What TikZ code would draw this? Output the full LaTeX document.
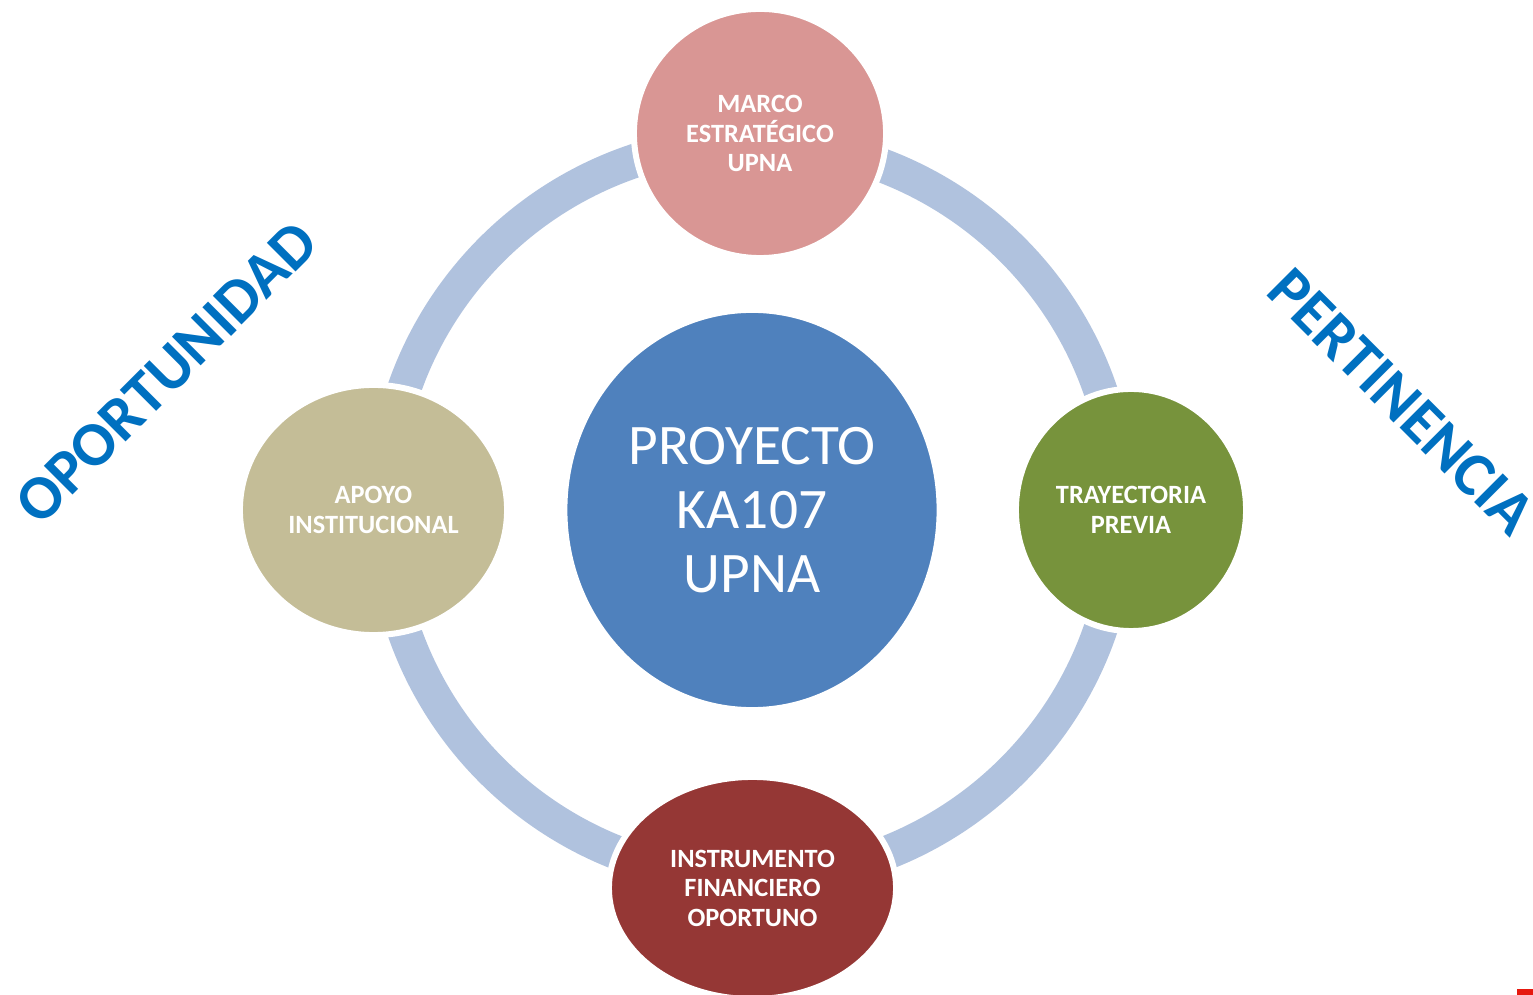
\documentclass[tikz,border=0pt]{standalone}
\usepackage{fontspec}
\setmainfont{Carlito}
\usetikzlibrary{shapes.geometric}
\definecolor{anillo}{RGB}{176,194,222}
\definecolor{azulcentro}{RGB}{79,129,189}
\definecolor{rosa}{RGB}{217,150,148}
\definecolor{arena}{RGB}{196,189,151}
\definecolor{oliva}{RGB}{119,147,60}
\definecolor{granate}{RGB}{149,55,53}
\definecolor{azultexto}{RGB}{0,112,192}
\definecolor{rojo}{RGB}{230,25,15}

\begin{document}
\begin{tikzpicture}[x=0.01cm, y=-0.01cm,
    bola/.style={ellipse, draw=white, line width=0.6mm, inner sep=0pt, text=white, align=center},
    etiqueta/.style={bola, font=\fontsize{7.5}{8.4}\selectfont\bfseries},
    lema/.style={text=azultexto, font=\fontsize{17.8}{20}\selectfont\bfseries}]
    \useasboundingbox (0,0) rectangle (1533,995);
    \coordinate (c) at (752,510);
    \draw[anillo, line width=3.4mm] (c) circle[radius=3.68cm];
    \node[bola, fill=azulcentro, minimum width=3.75cm, minimum height=4cm,
        font=\fontsize{16.3}{18.1}\selectfont] (centro) at (c) {PROYECTO\\KA107\\UPNA};
    \node[etiqueta, fill=rosa, minimum width=2.52cm, minimum height=2.49cm]
        (marco) at (760,133.5) {MARCO\\ESTRATÉGICO\\UPNA};
    \node[etiqueta, fill=arena, minimum width=2.67cm, minimum height=2.5cm]
        (apoyo) at (373.5,510) {APOYO\\INSTITUCIONAL};
    \node[etiqueta, fill=oliva, minimum width=2.3cm, minimum height=2.42cm]
        (trayectoria) at (1131,510) {TRAYECTORIA\\PREVIA};
    \node[etiqueta, fill=granate, minimum width=2.87cm, minimum height=2.22cm]
        (instrumento) at (752.5,888) {INSTRUMENTO\\FINANCIERO\\OPORTUNO};
    \node[lema, rotate=45] (oportunidad) at (166.5,372.5) {OPORTUNIDAD};
    \node[lema, rotate=-45] (pertinencia) at (1401.5,401.5) {PERTINENCIA};
    \fill[rojo] (1517,989) rectangle (1533,995);
\end{tikzpicture}
\end{document}
